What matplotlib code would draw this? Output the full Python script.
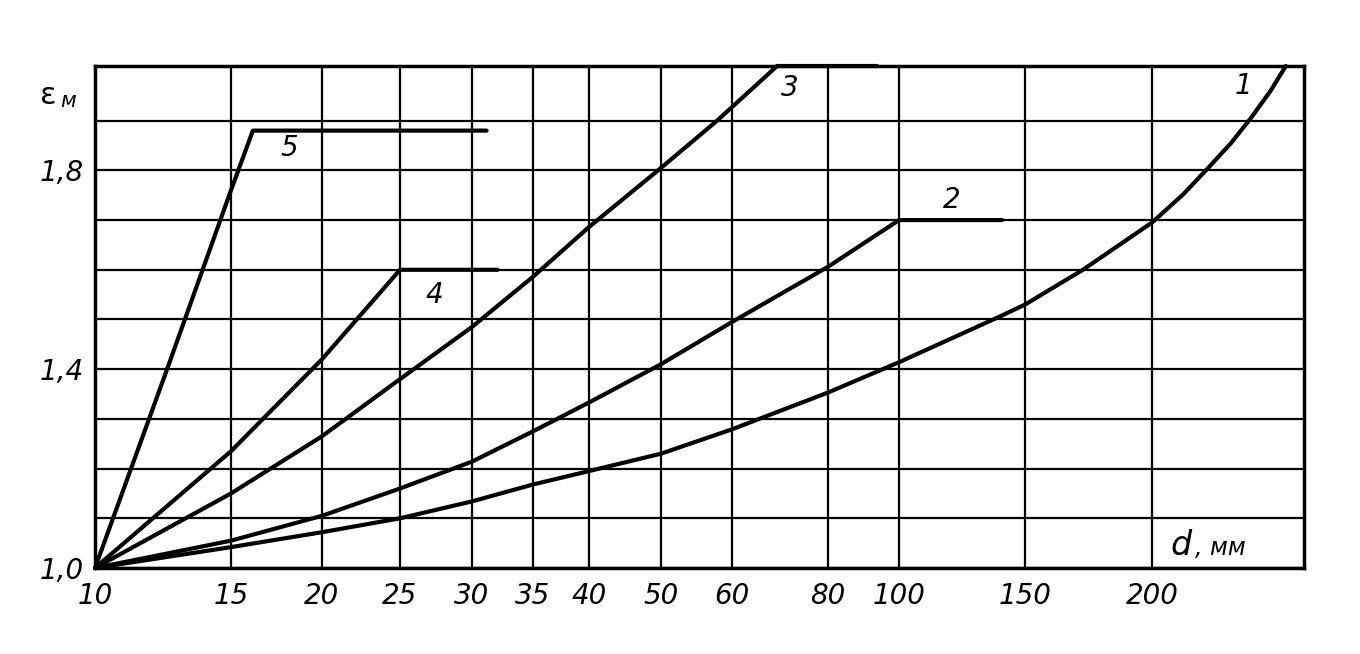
import numpy as np
import matplotlib
matplotlib.use('Agg')
from matplotlib import pyplot as plt

# шкала d (неравномерная, как на номограмме)
d_ticks = [10, 15, 20, 25, 30, 35, 40, 50, 60, 80, 100, 150, 200]
d_scale_vals = [10, 15, 20, 25, 30, 35, 40, 50, 60, 80, 100, 150, 200, 250]
d_scale_pos = [95, 231, 322, 400, 472, 533, 589, 661, 732, 828, 899, 1025, 1152, 1304]

eps_ticks = [1.0, 1.4, 1.8]
eps_labels = ['1,0', '1,4', '1,8']

# кривые 1..5
d1 = [10, 15, 20, 25, 30, 35, 40, 50, 60, 80, 100, 140, 150, 172.8, 200, 210.3, 218.5, 226, 232.5, 239, 244]
e1 = [1.0, 1.042, 1.072, 1.10, 1.134, 1.168, 1.195, 1.23, 1.279, 1.353, 1.414, 1.506, 1.53, 1.6, 1.695,
      1.752, 1.805, 1.855, 1.905, 1.96, 2.01]
d2 = [10, 15, 20, 25, 30, 35, 40, 50, 60, 80, 100, 140.9]
e2 = [1.0, 1.055, 1.105, 1.16, 1.214, 1.275, 1.333, 1.41, 1.495, 1.606, 1.7, 1.7]
d3 = [10, 15, 20, 25, 30, 35, 40, 50, 57.9, 69.4, 93.8]
e3 = [1.0, 1.15, 1.265, 1.38, 1.485, 1.586, 1.686, 1.805, 1.9, 2.01, 2.01]
d4 = [10, 15, 20, 25, 32.1]
e4 = [1.0, 1.235, 1.42, 1.6, 1.6]
d5 = [10, 12.65, 15, 16.2, 31.2]
e5 = [1.0, 1.4, 1.76, 1.88, 1.88]

curves = [(d1, e1), (d2, e2), (d3, e3), (d4, e4), (d5, e5)]
curve_names = ['1', '2', '3', '4', '5']
name_pos = [(230, 1.97), (121, 1.74), (72, 1.965), (27.4, 1.55), (18.2, 1.845)]


def fwd(x):
    return np.interp(x, d_scale_vals, d_scale_pos)


def inv(x):
    return np.interp(x, d_scale_pos, d_scale_vals)


fnt = ['DejaVu Sans']

fig = plt.figure(figsize=(13.6, 6.54), dpi=100)
ax = fig.add_axes([95 / 1360, 1 - 568 / 654, (1304 - 95) / 1360, (568 - 66) / 654])
ax.set_xscale('function', functions=(fwd, inv))
ax.set_xlim(10, 250)
ax.set_ylim(1.0, 2.01)

for (dd, ee) in curves:
    ax.plot(dd, ee, color='black', lw=3.0, solid_capstyle='round', solid_joinstyle='round',
            clip_on=False, zorder=3)

for nm, (x, y) in zip(curve_names, name_pos):
    ax.text(x, y, nm, fontsize=20, style='italic', family=fnt, ha='center', va='center')

ax.set_xticks(d_ticks)
ax.set_xticklabels([str(t) for t in d_ticks], fontsize=20, style='italic', family=fnt)
ax.set_xticks([], minor=True)
yt = np.round(np.arange(1.0, 1.95, 0.1), 1)
ax.set_yticks(yt)
ax.set_yticklabels([eps_labels[eps_ticks.index(v)] if v in eps_ticks else '' for v in yt],
                   fontsize=20, style='italic', family=fnt)
ax.tick_params(length=0, pad=8)
ax.tick_params(axis='x', pad=10)
ax.grid(True, color='black', lw=1.6)
for s in ax.spines.values():
    s.set_linewidth(2.5)

ax.text(213, 1.045, 'd', fontsize=24, style='italic', family=fnt, ha='right', va='center')
ax.text(214, 1.04, ', мм', fontsize=17, style='italic', family=fnt, ha='left', va='center')
fig.text(40 / 1360, 1 - 95 / 654, 'ε', fontsize=22, family=fnt, ha='left', va='center')
fig.text(60 / 1360, 1 - 101 / 654, 'м', fontsize=15, style='italic', family=fnt, ha='left', va='center')

fig.savefig('out.png', dpi=100)
